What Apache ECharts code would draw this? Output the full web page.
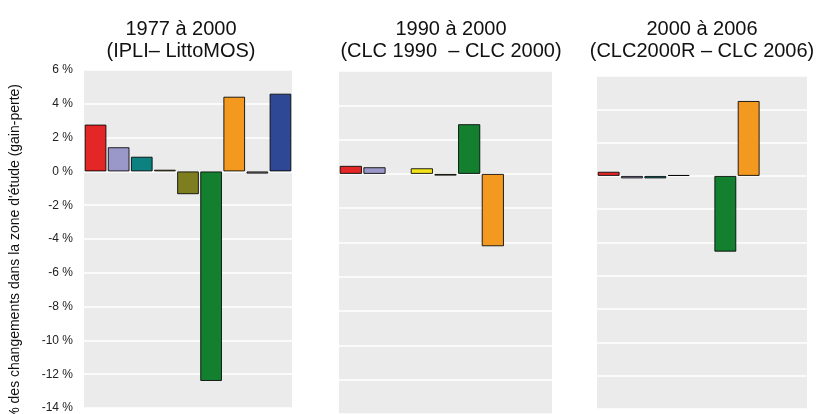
<!DOCTYPE html>
<html><head><meta charset="utf-8">
<script src="https://cdn.jsdelivr.net/npm/echarts@6/dist/echarts.min.js"></script>
<style>html,body{margin:0;padding:0;background:#fff}#c{width:825px;height:414px}</style>
</head><body><div id="c"></div>
<script>
// Land-cover classes (legend not shown in the reference)
const categories = ['Classe 1','Classe 2','Classe 3','Classe 4','Classe 5','Classe 6','Classe 7','Classe 8','Classe 9'];
// % change in the study area (gain - loss)
const values1977_2000 = [2.77, 1.43, 0.87, 0.10, -1.35, -12.40, 4.42, -0.13, 4.60];
const values1990_2000 = [0.47, 0.39, null, 0.33, -0.10, 2.90, -4.22, null, null];
const values2000_2006 = [0.25, -0.15, -0.15, 0.05, null, -4.55, 4.50, null, null];
const panelTitles = ['1977 à 2000\n(IPLI– LittoMOS)', '1990 à 2000\n(CLC 1990  – CLC 2000)', '2000 à 2006\n(CLC2000R – CLC 2006)'];
const yMin = -14, yMax = 6, yStep = 2;
const yAxisTitle = "% des changements dans la zone d'étude (gain-perte)";

const palette = ['#E32626','#9A97C9','#0D8080','#F2E21A','#7E7E20','#138030','#F3991F','#8C8C8C','#2F4895'];
const grids = [
  {left: 84, top: 70, width: 208, height: 343},
  {left: 339, top: 71, width: 213, height: 343},
  {left: 597, top: 76, width: 210, height: 333}
];
const titleCenters = [176, 446, 697];
const seriesData = [values1977_2000, values1990_2000, values2000_2006];

const chart = echarts.init(document.getElementById('c'), null, {renderer: 'canvas'});
const option = {
  animation: false,
  backgroundColor: '#fff',
  title: grids.map((g, i) => ({
    text: panelTitles[i],
    left: titleCenters[i],
    top: 13,
    textAlign: 'center',
    textStyle: {fontFamily: 'Liberation Sans', fontSize: 20, fontWeight: 'normal', color: '#111', lineHeight: 22}
  })),
  grid: grids.map(g => Object.assign({show: true, backgroundColor: '#EBEBEB', borderWidth: 0}, g)),
  xAxis: grids.map((g, i) => ({
    type: 'category', gridIndex: i, data: categories, show: false, boundaryGap: true
  })),
  yAxis: grids.map((g, i) => ({
    type: 'value', gridIndex: i, min: yMin, max: yMax, interval: yStep,
    axisLine: {show: false}, axisTick: {show: false},
    axisLabel: {show: i === 0, formatter: v => v + ' %', fontFamily: 'Liberation Sans', fontSize: 12, color: '#222', margin: 11},
    splitLine: {show: true, lineStyle: {color: '#FFFFFF', width: 1.5}}
  })),
  graphic: [{
    type: 'text', left: 8, top: 84, rotation: Math.PI / 2,
    style: {text: yAxisTitle, fontFamily: 'Liberation Sans', fontSize: 14, fill: '#111'}
  }],
  series: seriesData.map((d, i) => ({
    type: 'bar', xAxisIndex: i, yAxisIndex: i,
    data: d.map(v => v === null ? '-' : v),
    barCategoryGap: '6%',
    itemStyle: {
      color: p => palette[p.dataIndex],
      borderColor: 'rgba(0,0,0,0.85)', borderWidth: 1
    }
  }))
};
chart.setOption(option);
</script></body></html>
